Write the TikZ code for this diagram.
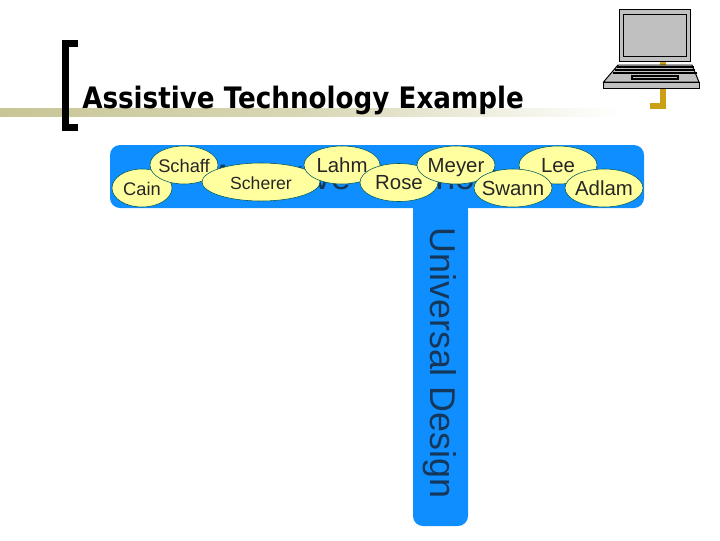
\documentclass[tikz,border=0pt]{standalone}
\usepackage{fontspec}
\setmainfont{Liberation Sans}
\newfontfamily\titlefont[FakeStretch=0.887]{DejaVu Sans}
\usetikzlibrary{shapes.geometric}
\definecolor{barblue}{RGB}{15,143,255}
\definecolor{inkblue}{RGB}{20,55,90}
\definecolor{nameyellow}{RGB}{255,255,160}
\definecolor{bandolive}{RGB}{200,198,150}
\definecolor{cablegold}{RGB}{204,160,20}
\definecolor{laptopgrey}{RGB}{192,192,192}
\newcommand{\tightname}[1]{\makebox[0pt]{#1}}
\tikzstyle{person} = [ellipse,draw=teal!70!black,line width=0.4pt,fill=nameyellow,inner sep=0pt,minimum height=0.95cm,text height=10.4pt,text depth=0pt,text=black!85,font=\fontsize{14.5}{16}\selectfont]
\tikzstyle{bluebar} = [fill=barblue,rounded corners=0.25cm]
\tikzstyle{laptop} = [draw=black,line width=0.7pt,fill=laptopgrey]

\begin{document}
\begin{tikzpicture}[x=0.025cm,y=-0.025cm]
\useasboundingbox (0,0) rectangle (720,540);

% title band and bracket
\shade[left color=bandolive,right color=white,middle color=bandolive!70] (0,108) rectangle (620,116);
\draw[line width=5.2pt,line cap=butt] (78,43.5) -- (65.5,43.5) -- (65.5,127.5) -- (78,127.5);
\node[anchor=base west,inner sep=0pt,font=\titlefont\bfseries\fontsize{21}{24}\selectfont] (title) at (82,108) {Assistive Technology Example};

% blue bars
\fill[bluebar] (110,145) rectangle (644,208);
\fill[bluebar] (413,200) rectangle (468,526);
\fill[barblue] (413,200) rectangle (468,215);
\node[anchor=base,text=inkblue,font=\fontsize{25.2}{28}\selectfont] (hidden) at (375.5,189) {Assistive Technology};
\node[rotate=-90,text=inkblue,font=\fontsize{25.5}{28}\selectfont] (design) at (440,363) {Universal Design};

% names, later ones lie on top
\node[person,minimum width=1.5cm,font=\fontsize{13}{15}\selectfont] (cain) at (142,188) {\tightname{Cain}};
\node[person,minimum width=1.7cm,font=\fontsize{13}{15}\selectfont] (schaff) at (184,165) {\tightname{Schaff}};
\node[person,minimum width=2.95cm,font=\fontsize{12.5}{14}\selectfont] (scherer) at (261,182) {\tightname{Scherer}};
\node[person,minimum width=1.9cm] (lahm) at (342,165) {\tightname{Lahm}};
\node[person,minimum width=1.95cm] (rose) at (399,182.5) {\tightname{Rose}};
\node[person,minimum width=1.95cm] (meyer) at (456,165) {\tightname{Meyer}};
\node[person,minimum width=1.95cm] (lee) at (558,165) {\tightname{Lee}};
\node[person,minimum width=1.95cm] (swann) at (513,188) {\tightname{Swann}};
\node[person,minimum width=1.95cm] (adlam) at (604,188) {\tightname{Adlam}};

% laptop and cable
\fill[cablegold] (660,61) rectangle (666,65);
\fill[cablegold] (660,88) rectangle (666,108.5);
\fill[cablegold] (650,103) rectangle (666,108.5);
\draw[laptop] (619,9.5) rectangle (690,61);
\draw[laptop] (623.5,14) rectangle (686.5,56);
\draw[laptop] (618,65) -- (692,65) -- (699,82) -- (603.5,82) -- cycle;
\draw[laptop] (603.5,82) rectangle (699,88);
\foreach \y/\a/\b in {67/616.5/693.5,70/615/695,73/613/697}
{
 \draw[line width=1pt] (\a,\y) -- (\b,\y);
}
\draw[line width=0.8pt] (632,76) rectangle (678,79);
\end{tikzpicture}
\end{document}
